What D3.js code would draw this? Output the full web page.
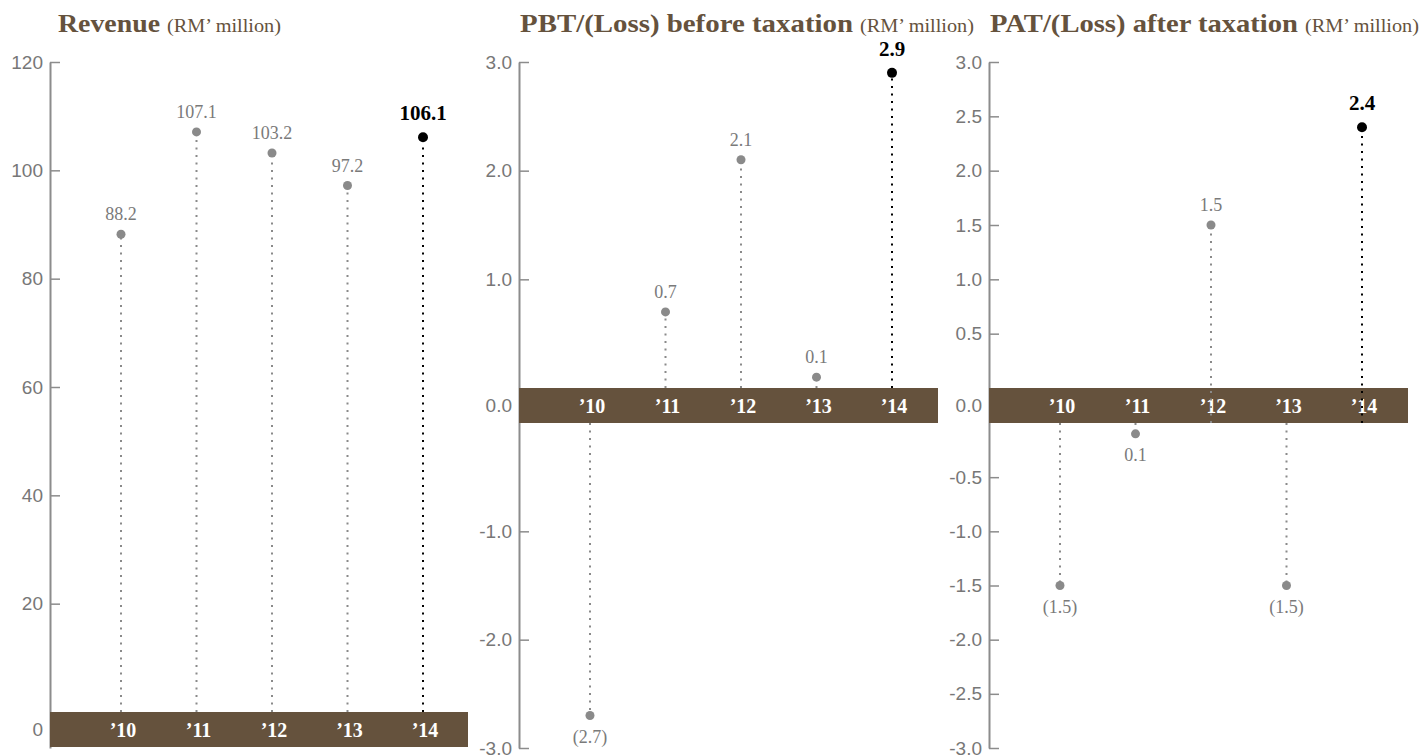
<!DOCTYPE html>
<html>
<head>
<meta charset="utf-8">
<script src="https://cdn.jsdelivr.net/npm/d3@7"></script>
<style>
  body { margin: 0; background: #fff; }
  svg { display: block; }
</style>
</head>
<body>
<div id="chart"></div>
<script>
// data
var years = ["\u201910", "\u201911", "\u201912", "\u201913", "\u201914"];

var revenue = [88.2, 107.1, 103.2, 97.2, 106.1];
var revenueLabels = ["88.2", "107.1", "103.2", "97.2", "106.1"];
var revenueTicks = [20, 40, 60, 80, 100, 120];

var pbt = [-2.7, 0.7, 2.1, 0.1, 2.9];
var pbtLabels = ["(2.7)", "0.7", "2.1", "0.1", "2.9"];
var pbtTicks = [-3, -2, -1, 1, 2, 3];

var pat = [-1.5, -0.1, 1.5, -1.5, 2.4];
var patLabels = ["(1.5)", "0.1", "1.5", "(1.5)", "2.4"];
var patTicks = [-3, -2.5, -2, -1.5, -1, -0.5, 0.5, 1, 1.5, 2, 2.5, 3];

var brown = "#65523d",
    grey = "#8a8a8a",
    axisGrey = "#8c8c8c",
    serif = "'Liberation Serif', 'DejaVu Serif', serif",
    sans = "'Liberation Sans', Arial, sans-serif";

var plotTop = 62, plotBottom = 748, bandH = 35;

// d3.format uses a unicode minus, the report uses a plain hyphen
function hyphen(f) {
    return function(v) { return f(v).replace("\u2212", "-"); };
}

var panels = [
  { title: "Revenue", titleX: 58, titleW: 102, parenX: 167,
    x0: 50, x1: 468, min: 0, max: 120, bandTop: 712,
    values: revenue, labels: revenueLabels, ticks: revenueTicks,
    fmt: hyphen(d3.format("d")), zero: "0", through: [] },
  { title: "PBT/(Loss) before taxation", titleX: 520, titleW: 333, parenX: 860,
    x0: 519, x1: 938, min: -3, max: 3, bandTop: 388,
    values: pbt, labels: pbtLabels, ticks: pbtTicks,
    fmt: hyphen(d3.format(".1f")), zero: "0.0", through: [] },
  { title: "PAT/(Loss) after taxation", titleX: 990, titleW: 308, parenX: 1305,
    x0: 989, x1: 1408, min: -3, max: 3, bandTop: 388,
    values: pat, labels: patLabels, ticks: patTicks,
    fmt: hyphen(d3.format(".1f")), zero: "0.0", through: ["\u201912", "\u201914"] }
];

var svg = d3.select("#chart")
            .append("svg")
            .attr("width", 1422)
            .attr("height", 756);

panels.forEach(function(p) {
    var g = svg.append("g");
    var bandBottom = p.bandTop + bandH;

    // axis is broken around zero: the brown band sits between both halves
    var y = d3.scaleLinear()
              .domain([p.min, 0, 0, p.max])
              .range([plotBottom, bandBottom, p.bandTop, plotTop]);

    var x = d3.scalePoint()
              .domain(years)
              .range([p.x0 + 71, p.x0 + 373]);

    // title
    g.append("text")
     .attr("x", p.titleX)
     .attr("y", 32)
     .attr("fill", brown)
     .attr("font-family", serif)
     .attr("font-weight", "bold")
     .attr("font-size", "26px")
     .attr("textLength", p.titleW)
     .attr("lengthAdjust", "spacingAndGlyphs")
     .text(p.title);

    g.append("text")
     .attr("x", p.parenX)
     .attr("y", 32)
     .attr("fill", brown)
     .attr("font-family", serif)
     .attr("font-size", "18px")
     .attr("textLength", 114)
     .attr("lengthAdjust", "spacingAndGlyphs")
     .text("(RM\u2019 million)");

    // y axis
    var axis = g.append("g")
                .attr("transform", "translate(" + p.x0 + ",0)")
                .call(d3.axisLeft(y)
                        .tickValues(p.ticks)
                        .tickFormat(p.fmt)
                        .tickSizeInner(-10)
                        .tickSizeOuter(0)
                        .tickPadding(7));

    axis.select(".domain").attr("stroke", axisGrey).attr("stroke-width", 2);
    axis.selectAll(".tick line").attr("stroke", axisGrey).attr("stroke-width", 1.5);
    axis.selectAll(".tick text")
        .attr("fill", "#777")
        .attr("font-family", sans)
        .attr("font-size", "19px");

    g.append("text")
     .attr("x", p.x0 - 7)
     .attr("y", p.bandTop + bandH / 2)
     .attr("dy", "0.35em")
     .attr("text-anchor", "end")
     .attr("fill", "#777")
     .attr("font-family", sans)
     .attr("font-size", "19px")
     .text(p.zero);

    // zero band with the year labels
    g.append("rect")
     .attr("x", p.x0)
     .attr("y", p.bandTop)
     .attr("width", p.x1 - p.x0)
     .attr("height", bandH)
     .attr("fill", brown);

    g.selectAll("text.year")
     .data(years)
     .enter()
     .append("text")
     .attr("class", "year")
     .attr("x", function(d) { return x(d) + 2; })
     .attr("y", p.bandTop + bandH / 2 + 7)
     .attr("text-anchor", "middle")
     .attr("fill", "#fff")
     .attr("font-family", serif)
     .attr("font-weight", "bold")
     .attr("font-size", "20px")
     .text(function(d) { return d; });

    var pts = p.values.map(function(v, i) {
        return { year: years[i], v: v, label: p.labels[i], last: i === years.length - 1 };
    });

    // dotted stems
    g.selectAll("line.stem")
     .data(pts)
     .enter()
     .append("line")
     .attr("class", "stem")
     .attr("x1", function(d) { return x(d.year); })
     .attr("x2", function(d) { return x(d.year); })
     .attr("y1", function(d) {
         if (d.v < 0 || p.through.indexOf(d.year) >= 0) return bandBottom;
         return p.bandTop;
     })
     .attr("y2", function(d) { return y(d.v); })
     .attr("stroke", function(d) { return d.last ? "#000" : grey; })
     .attr("stroke-width", 2)
     .attr("stroke-dasharray", "2,5.5");

    g.selectAll("circle.dot")
     .data(pts)
     .enter()
     .append("circle")
     .attr("class", "dot")
     .attr("cx", function(d) { return x(d.year); })
     .attr("cy", function(d) { return y(d.v); })
     .attr("r", function(d) { return d.last ? 5 : 4.5; })
     .attr("fill", function(d) { return d.last ? "#000" : grey; });

    g.selectAll("text.val")
     .data(pts)
     .enter()
     .append("text")
     .attr("class", "val")
     .attr("x", function(d) { return x(d.year); })
     .attr("y", function(d) {
         if (d.v < 0) return y(d.v) + 27;
         return y(d.v) - (d.last ? 17 : 14);
     })
     .attr("text-anchor", "middle")
     .attr("fill", function(d) { return d.last ? "#000" : "#7a7a7a"; })
     .attr("font-family", serif)
     .attr("font-weight", function(d) { return d.last ? "bold" : "normal"; })
     .attr("font-size", function(d) { return d.last ? "21px" : "18px"; })
     .text(function(d) { return d.label; });
});
</script>
</body>
</html>
